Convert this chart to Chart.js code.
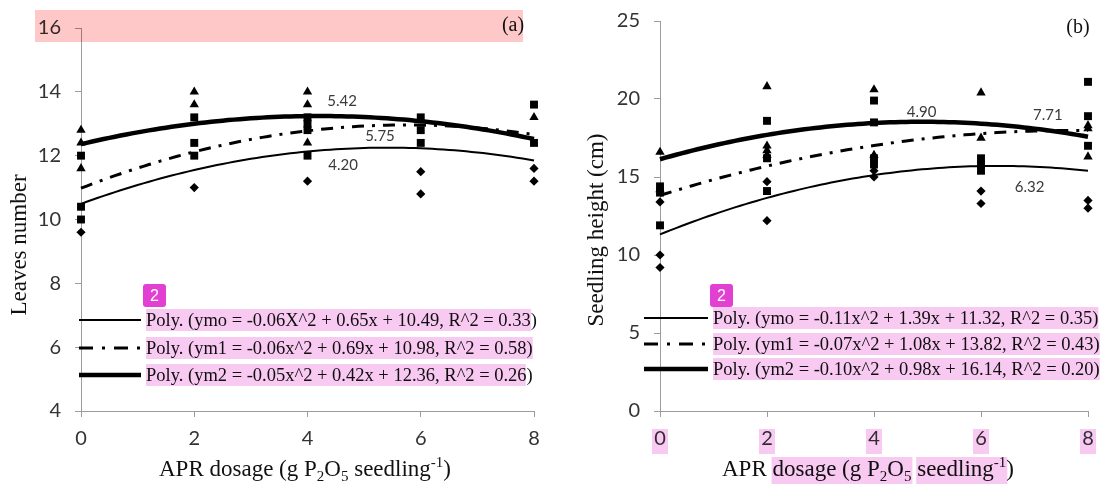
<!DOCTYPE html>
<html>
<head>
<meta charset="utf-8">
<script src="https://cdn.jsdelivr.net/npm/chart.js@4/dist/chart.umd.min.js"></script>
<style>
  html, body { margin: 0; padding: 0; background: #fff; }
  #wrap { position: relative; width: 1112px; height: 484px; overflow: hidden; }
  #wrap canvas { position: absolute; top: 0; }
</style>
</head>
<body>
<div id="wrap">
  <canvas id="panelA" width="556" height="484" style="left:0"></canvas>
  <canvas id="panelB" width="556" height="484" style="left:556px"></canvas>
</div>
<script>
// ---- shared axis ----
const dosageTicks = [0, 2, 4, 6, 8];
const leavesTicks = [4, 6, 8, 10, 12, 14, 16];
const heightTicks = [0, 5, 10, 15, 20, 25];

// ---- (a) leaves number: observations ----
const leavesMoX = [0, 2, 4, 6, 6, 8, 8];
const leavesMoY = [9.6, 11.0, 11.2, 11.5, 10.8, 11.6, 11.2];
const leavesM1X = [0, 0, 0, 2, 2, 2, 4, 4, 4, 4, 6, 6, 6, 8, 8];
const leavesM1Y = [12.0, 10.4, 10.0, 13.2, 12.4, 12.0, 13.2, 13.0, 12.8, 12.0, 13.2, 12.8, 12.4, 13.6, 12.4];
const leavesM2X = [0, 0, 0, 2, 2, 4, 4, 4, 8];
const leavesM2Y = [12.8, 12.4, 11.6, 14.0, 13.6, 14.0, 13.6, 12.4, 13.2];

// (a) polynomial trend coefficients [a, b, c] and R^2
const leavesMoCoef = [-0.06, 0.65, 10.49];
const leavesM1Coef = [-0.06, 0.69, 10.98];
const leavesM2Coef = [-0.05, 0.42, 12.36];
const leavesR2 = [0.33, 0.58, 0.26];
const leavesSqVar = ['X', 'x', 'x'];

// ---- (b) seedling height: observations ----
const heightMoX = [0, 0, 0, 2, 2, 4, 4, 6, 6, 8, 8];
const heightMoY = [13.4, 10.0, 9.2, 14.7, 12.2, 15.0, 15.4, 14.1, 13.3, 13.5, 13.0];
const heightM1X = [0, 0, 0, 2, 2, 2, 4, 4, 4, 4, 6, 6, 6, 8, 8, 8];
const heightM1Y = [14.4, 14.0, 11.9, 18.6, 16.2, 14.1, 19.9, 18.5, 16.2, 15.8, 16.2, 15.8, 15.4, 21.1, 18.9, 17.0];
const heightM2X = [0, 0, 2, 2, 2, 2, 4, 4, 6, 6, 8, 8, 8];
const heightM2Y = [16.6, 14.2, 20.8, 17.0, 16.7, 16.4, 20.6, 16.4, 20.4, 17.5, 18.3, 18.1, 16.3];

// (b) polynomial trend coefficients [a, b, c] and R^2
const heightMoCoef = [-0.11, 1.39, 11.32];
const heightM1Coef = [-0.07, 1.08, 13.82];
const heightM2Coef = [-0.10, 0.98, 16.14];
const heightR2 = [0.35, 0.43, 0.20];
const heightSqVar = ['x', 'x', 'x'];

const seriesNames = ['ymo', 'ym1', 'ym2'];

// ---- helpers ----
const SERIF = '"Liberation Serif", "Times New Roman", serif';
const SANS = 'Lato, "Open Sans", sans-serif';
const AXIS_GREY = '#9c9c9c';

function zipPoints(xs, ys) { return xs.map((x, i) => ({ x, y: ys[i] })); }
function quad(c, x) { return c[0] * x * x + c[1] * x + c[2]; }
function trendPoints(c) {
  const pts = [];
  for (let i = 0; i <= 80; i++) { const x = i / 10; pts.push({ x, y: quad(c, x) }); }
  return pts;
}
function vertexLabel(c) { return (-c[1] / (2 * c[0])).toFixed(2); }
function fmtSigned(v) { return v.toFixed(2); }
function trendLabel(name, c, r2, sq) {
  return `Poly. (${name} = ${fmtSigned(c[0])}${sq}^2 + ${c[1].toFixed(2)}x + ${c[2].toFixed(2)}, R^2 = ${r2.toFixed(2)})`;
}

const lineStyles = [
  { width: 2, dash: [] },
  { width: 3, dash: [12, 8, 3, 8] },
  { width: 4.5, dash: [] }
];

function markerSet(pts, style, radius) {
  return {
    type: 'scatter', data: pts, pointStyle: style, pointRadius: radius,
    pointBackgroundColor: '#000', pointBorderWidth: 0, pointHoverRadius: radius,
    order: 0, clip: false
  };
}
function trendSet(coef, idx) {
  return {
    type: 'scatter', data: trendPoints(coef), showLine: true, pointRadius: 0,
    borderColor: '#000', borderWidth: lineStyles[idx].width, borderDash: lineStyles[idx].dash,
    borderCapStyle: 'butt', tension: 0, order: 1, clip: false
  };
}

// rich text with sub/superscripts; returns boxes of highlighted runs
function drawRich(ctx, pieces, cx, baseY, size) {
  const small = Math.round(size * 0.64);
  let total = 0;
  const widths = pieces.map(p => {
    ctx.font = `${p.sub || p.sup ? small : size}px ${SERIF}`;
    const w = ctx.measureText(p.t).width; total += w; return w;
  });
  let x = cx - total / 2;
  const boxes = [];
  ctx.textAlign = 'left';
  ctx.textBaseline = 'alphabetic';
  pieces.forEach((p, i) => {
    ctx.font = `${p.sub || p.sup ? small : size}px ${SERIF}`;
    let dy = 0;
    if (p.sub) dy = size * 0.22;
    if (p.sup) dy = -size * 0.40;
    ctx.fillText(p.t, x, baseY + dy);
    if (p.hl) {
      const last = boxes[boxes.length - 1];
      if (last && Math.abs(last.x + last.w - x) < 0.5) last.w += widths[i];
      else boxes.push({ x, w: widths[i] });
    }
    x += widths[i];
  });
  return boxes;
}

// per-panel decorations: titles, trend legend, value labels, highlights
const panelDecor = {
  id: 'panelDecor',
  afterDraw(chart, args, o) {
    const ctx = chart.ctx;
    const xs = chart.scales.x, ys = chart.scales.y;
    ctx.save();
    ctx.fillStyle = '#111';

    // y title
    ctx.save();
    ctx.translate(o.yTitle.x, o.yTitle.y);
    ctx.rotate(-Math.PI / 2);
    ctx.font = `23px ${SERIF}`;
    ctx.textAlign = 'center';
    ctx.textBaseline = 'middle';
    ctx.fillText(o.yTitle.text, 0, 0);
    ctx.restore();

    // x title
    const titleBoxes = drawRich(ctx, o.xTitle.pieces, o.xTitle.cx, o.xTitle.base, 23);

    // panel tag
    ctx.font = `20px ${SERIF}`;
    ctx.textAlign = 'center';
    ctx.textBaseline = 'middle';
    ctx.fillText(o.tag.text, o.tag.x, o.tag.y);

    // vertex value labels
    ctx.font = `15px ${SANS}`;
    ctx.fillStyle = '#3a3a3a';
    o.valueLabels.forEach(l => {
      ctx.fillText(l.text, xs.getPixelForValue(l.x), ys.getPixelForValue(l.y));
    });

    // trend legend
    const lg = o.legend;
    const rowBoxes = [];
    lg.labels.forEach((txt, i) => {
      const y = lg.rows[i];
      ctx.save();
      ctx.strokeStyle = '#000';
      ctx.lineWidth = lineStyles[i].width;
      ctx.setLineDash(lineStyles[i].dash.length ? [14, 9, 3, 9] : []);
      ctx.beginPath();
      ctx.moveTo(lg.lineX0, y);
      ctx.lineTo(lg.lineX1, y);
      ctx.stroke();
      ctx.restore();
      ctx.fillStyle = '#111';
      ctx.font = `${lg.size}px ${SERIF}`;
      ctx.textAlign = 'left';
      ctx.textBaseline = 'middle';
      ctx.fillText(txt, lg.textX, y + 1);
      rowBoxes.push({ x: lg.textX, y: y - 11, w: ctx.measureText(txt).width - (lg.trim[i] || 0), h: 22 });
    });

    // highlight overlays
    ctx.globalCompositeOperation = 'multiply';
    ctx.fillStyle = 'rgb(248, 202, 242)';
    rowBoxes.forEach(b => ctx.fillRect(b.x, b.y, b.w, b.h));
    if (o.hlTicks) {
      o.hlTicks.forEach(v => {
        const px = xs.getPixelForValue(v);
        ctx.fillRect(px - 8, 429, 16, 25);
      });
      titleBoxes.forEach(b => ctx.fillRect(b.x - 1, o.xTitle.base - 19, b.w + 2, 27));
    }
    if (o.band) {
      ctx.fillStyle = 'rgb(255, 200, 200)';
      ctx.fillRect(o.band.x, o.band.y, o.band.w, o.band.h);
    }
    ctx.globalCompositeOperation = 'source-over';

    // numbered badge
    ctx.fillStyle = '#e23fd3';
    const bd = o.badge;
    ctx.beginPath();
    ctx.roundRect(bd.x, bd.y, 23, 23, 3);
    ctx.fill();
    ctx.fillStyle = '#fff';
    ctx.font = `16px "Liberation Sans", Arial, sans-serif`;
    ctx.textAlign = 'center';
    ctx.textBaseline = 'middle';
    ctx.fillText('2', bd.x + 11.5, bd.y + 12.5);

    ctx.restore();
  }
};

function scaleOpts(ticks, fixedSize, isY, tickPad) {
  return {
    type: 'linear',
    min: ticks[0], max: ticks[ticks.length - 1],
    afterBuildTicks: s => { s.ticks = ticks.map(v => ({ value: v })); },
    afterFit: s => {
      if (isY) s.width = fixedSize; else s.height = fixedSize;
      s.paddingTop = 0; s.paddingBottom = 0; s.paddingLeft = 0; s.paddingRight = 0;
    },
    border: { display: true, color: AXIS_GREY, width: 1 },
    grid: { display: true, drawOnChartArea: false, drawTicks: true, tickLength: 6, color: AXIS_GREY, tickColor: AXIS_GREY },
    ticks: { color: '#333', font: { family: SANS, size: 20 }, padding: tickPad, autoSkip: false, maxRotation: 0 }
  };
}

function titlePieces(highlight) {
  return [
    { t: 'APR ' },
    { t: 'dosage (g P', hl: highlight },
    { t: '2', sub: true, hl: highlight },
    { t: 'O', hl: highlight },
    { t: '5', sub: true, hl: highlight },
    { t: ' ' },
    { t: 'seedling', hl: highlight },
    { t: '-1', sup: true, hl: highlight },
    { t: ')' }
  ];
}

function buildPanel(canvasId, p) {
  return new Chart(document.getElementById(canvasId), {
    type: 'scatter',
    data: {
      datasets: [
        markerSet(zipPoints(p.moX, p.moY), 'rectRot', 4.6),
        markerSet(zipPoints(p.m1X, p.m1Y), 'rect', 5.6),
        markerSet(zipPoints(p.m2X, p.m2Y), 'triangle', 5.4),
        trendSet(p.coefs[0], 0),
        trendSet(p.coefs[1], 1),
        trendSet(p.coefs[2], 2)
      ]
    },
    options: {
      responsive: false, animation: false, events: [],
      layout: { padding: p.padding },
      scales: {
        x: scaleOpts(dosageTicks, 73, false, 10),
        y: scaleOpts(p.yTicks, p.yWidth, true, p.yTickPad)
      },
      plugins: {
        legend: { display: false }, tooltip: { enabled: false },
        panelDecor: p.decor
      }
    },
    plugins: [panelDecor]
  });
}

// ---- panel (a) ----
buildPanel('panelA', {
  moX: leavesMoX, moY: leavesMoY, m1X: leavesM1X, m1Y: leavesM1Y, m2X: leavesM2X, m2Y: leavesM2Y,
  coefs: [leavesMoCoef, leavesM1Coef, leavesM2Coef],
  yTicks: leavesTicks, yWidth: 81, yTickPad: 14,
  padding: { left: 0, top: 28, right: 22, bottom: 0 },
  decor: {
    yTitle: { text: 'Leaves number', x: 20, y: 245 },
    xTitle: { pieces: titlePieces(false), cx: 305, base: 476 },
    tag: { text: '(a)', x: 513, y: 26 },
    valueLabels: [
      { text: vertexLabel(leavesMoCoef), x: 4.61, y: 13.72 },
      { text: vertexLabel(leavesM1Coef), x: 5.28, y: 12.6 },
      { text: vertexLabel(leavesM2Coef), x: 4.63, y: 11.69 }
    ],
    legend: {
      labels: seriesNames.map((n, i) => trendLabel(n, [leavesMoCoef, leavesM1Coef, leavesM2Coef][i], leavesR2[i], leavesSqVar[i])),
      rows: [320, 348, 375], lineX0: 79, lineX1: 141, textX: 146, size: 18.5, trim: [6, 0, 7]
    },
    band: { x: 35, y: 10, w: 488, h: 32 },
    badge: { x: 143, y: 284 }
  }
});

// ---- panel (b) ----
buildPanel('panelB', {
  moX: heightMoX, moY: heightMoY, m1X: heightM1X, m1Y: heightM1Y, m2X: heightM2X, m2Y: heightM2Y,
  coefs: [heightMoCoef, heightM1Coef, heightM2Coef],
  yTicks: heightTicks, yWidth: 104, yTickPad: 14,
  padding: { left: 0, top: 21, right: 24, bottom: 0 },
  decor: {
    yTitle: { text: 'Seedling height (cm)', x: 41, y: 230 },
    xTitle: { pieces: titlePieces(true), cx: 312, base: 476 },
    tag: { text: '(b)', x: 522, y: 28 },
    valueLabels: [
      { text: vertexLabel(heightM2Coef), x: 4.89, y: 19.17 },
      { text: vertexLabel(heightM1Coef), x: 7.25, y: 18.97 },
      { text: vertexLabel(heightMoCoef), x: 6.91, y: 14.36 }
    ],
    legend: {
      labels: seriesNames.map((n, i) => trendLabel(n, [heightMoCoef, heightM1Coef, heightM2Coef][i], heightR2[i], heightSqVar[i])),
      rows: [318, 344, 369], lineX0: 88, lineX1: 152, textX: 157, size: 18.5, trim: [0, 0, 0]
    },
    hlTicks: dosageTicks,
    badge: { x: 154, y: 284 }
  }
});
</script>
</body>
</html>
